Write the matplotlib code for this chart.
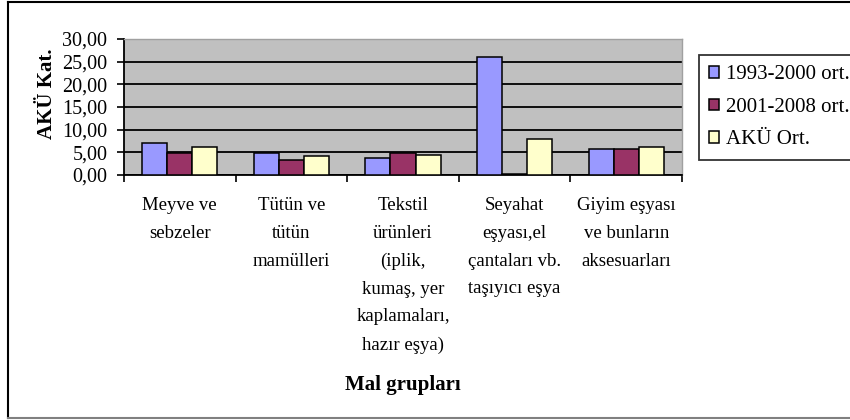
import matplotlib
matplotlib.use("Agg")
import matplotlib.pyplot as plt
from matplotlib.ticker import FuncFormatter, FixedLocator
from matplotlib.lines import Line2D
from matplotlib.patches import Patch

plt.rcParams['font.family'] = ['Liberation Serif', 'DejaVu Serif']

categories = [
    "Meyve ve\nsebzeler",
    "Tütün ve\ntütün\nmamülleri",
    "Tekstil\nürünleri\n(iplik,\nkumaş, yer\nkaplamaları,\nhazır eşya)",
    "Seyahat\neşyası,el\nçantaları vb.\ntaşıyıcı eşya",
    "Giyim eşyası\nve bunların\naksesuarları",
]
series_names = ["1993-2000 ort.", "2001-2008 ort.", "AKÜ Ort."]
s1993_2000 = [7.0, 4.9, 3.7, 26.1, 5.8]
s2001_2008 = [4.9, 3.3, 4.9, 0.3, 5.8]
aku_ort = [6.2, 4.2, 4.5, 7.9, 6.2]
y_ticks = [0, 5, 10, 15, 20, 25, 30]

colors = ["#9999FF", "#993366", "#FFFFCC"]
W, H = 850, 420
fig = plt.figure(figsize=(W / 100, H / 100), dpi=100)

# outer chart frame
fig.add_artist(Line2D([8 / W, 8 / W], [1 - 2 / H, 1 - 418 / H], color="black", lw=1.5))
fig.add_artist(Line2D([8 / W, 1.0], [1 - 2 / H, 1 - 2 / H], color="black", lw=1.5))
fig.add_artist(Line2D([8 / W, 1.0], [1 - 418 / H, 1 - 418 / H], color="#808080", lw=1.5))

ax = fig.add_axes([124 / W, 1 - 175 / H, (682 - 124) / W, (175 - 39) / H])
ax.set_facecolor("#C0C0C0")

w = 0.225
x = list(range(len(categories)))
for k, vals in enumerate([s1993_2000, s2001_2008, aku_ort]):
    ax.bar([xi + (k - 1) * w for xi in x], vals, width=w, color=colors[k],
           edgecolor="black", linewidth=1.1, zorder=3, label=series_names[k])

ax.set_xlim(-0.5, len(categories) - 0.5)
ax.set_ylim(0, 30)
ax.set_yticks(y_ticks)
ax.yaxis.set_major_formatter(FuncFormatter(lambda v, p: f"{v:.2f}".replace(".", ",")))
ax.yaxis.grid(True, color="black", lw=1.3, zorder=1)

ax.set_xticks(x)
ax.set_xticklabels(categories, fontsize=13.5, linespacing=1.82)
ax.xaxis.set_minor_locator(FixedLocator([i - 0.5 for i in range(len(categories) + 1)]))
ax.tick_params(axis="x", which="major", length=0, pad=16)
ax.tick_params(axis="x", which="minor", length=5, width=1.2, color="black")
ax.tick_params(axis="y", length=5, width=1.2, labelsize=14.5, pad=7)

for side in ["top", "right"]:
    ax.spines[side].set_color("#A0A0A0")
    ax.spines[side].set_linewidth(1.0)
for side in ["left", "bottom"]:
    ax.spines[side].set_color("black")
    ax.spines[side].set_linewidth(1.3)

fig.text(47 / W, 1 - 94 / H, "AKÜ Kat.", rotation=90, ha="center", va="center",
         fontsize=15, fontweight="bold")
fig.text((124 + 682) / 2 / W, 1 - 385 / H, "Mal grupları", ha="center", va="center",
         fontsize=15, fontweight="bold")

handles = [Patch(facecolor=c, edgecolor="black", linewidth=1.1) for c in colors]
leg = fig.legend(handles, series_names, loc="upper left",
                 bbox_to_anchor=(699 / W, 1 - 55 / H), bbox_transform=fig.transFigure,
                 fontsize=15, frameon=True, fancybox=False, edgecolor="black",
                 handlelength=0.45, handleheight=0.45, handletextpad=0.35,
                 labelspacing=0.65, borderpad=0.5, borderaxespad=0)
leg.get_frame().set_linewidth(1.3)
leg._legend_box.sep = 0

fig.savefig("out.png", dpi=100)
